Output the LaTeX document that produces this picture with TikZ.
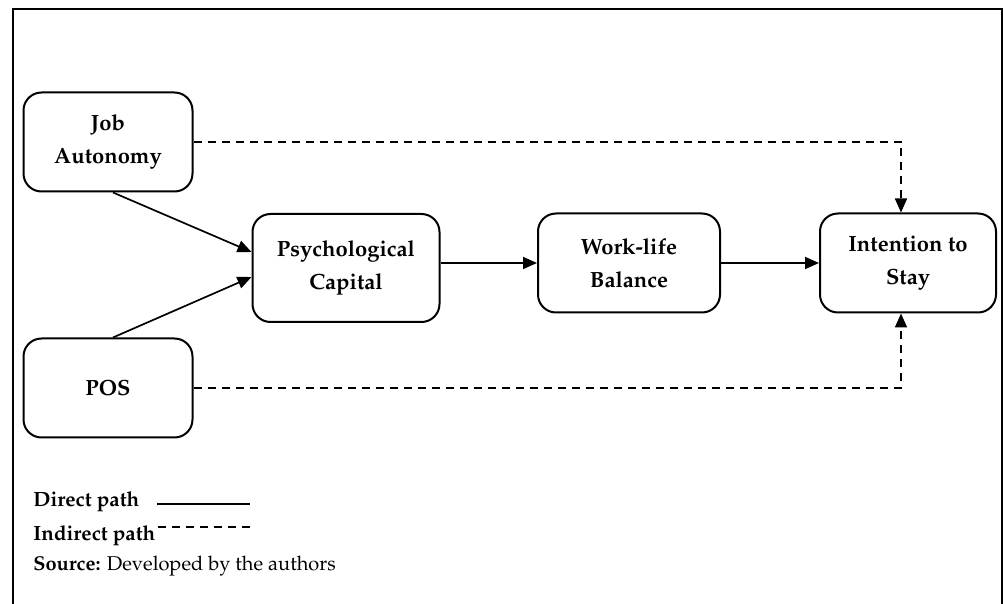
\documentclass[tikz,border=0pt]{standalone}
\usepackage[T1]{fontenc}
\usepackage{mathpazo}
\usetikzlibrary{arrows.meta,positioning}

\begin{document}
\begin{tikzpicture}[x=0.5pt,y=-0.5pt,
    pbox/.style={draw,line width=1pt,rounded corners=9pt,align=center,
      font=\fontsize{11}{16.5}\selectfont\bfseries,minimum height=49.5pt,inner sep=2pt},
    dpath/.style={line width=0.85pt,-{Triangle[length=7pt,width=6pt]}},
    ipath/.style={dpath,dash pattern=on 4pt off 3pt},
    lgd/.style={anchor=base west,inner sep=0pt,font=\fontsize{10}{12}\selectfont}]
 \useasboundingbox (0,0) rectangle (1003,604);
 \draw[line width=1pt] (13,620) -- (13,9) -- (1002,9) -- (1002,620);
 \node[pbox,minimum width=84.5pt] (JA) at (108,142) {Job\\Autonomy};
 \node[pbox,minimum width=84.5pt] (POS) at (108,388) {POS};
 \node[pbox,minimum width=93.5pt,minimum height=54pt] (PC) at (346,268) {Psychological\\Capital};
 \node[pbox,minimum width=91pt] (WLB) at (629,263) {Work-life\\Balance};
 \node[pbox,minimum width=88pt] (ITS) at (908,263) {Intention to\\Stay};
 \draw[dpath] ([xshift=2.5pt]JA.south) -- ([yshift=8pt]PC.west);
 \draw[dpath] ([xshift=2.5pt]POS.north) -- ([yshift=-4.5pt]PC.west);
 \draw[dpath] (PC.east |- WLB.west) -- (WLB.west);
 \draw[dpath] (WLB.east) -- (ITS.west);
 \draw[ipath] (JA.east) -| ([xshift=-3.5pt]ITS.north);
 \draw[ipath] (POS.east) -| ([xshift=-3.5pt]ITS.south);
 % legend
 \node[lgd,font=\fontsize{10.3}{12}\selectfont\bfseries] (DP) at (33,507) {Direct path};
 \node[lgd,font=\fontsize{10.3}{12}\selectfont\bfseries] (IP) at (33,541) {Indirect path};
 \node[lgd] (SRC) at (33,571) {\textbf{Source:} Developed by the authors};
 \coordinate (DL) at (157,504);
 \coordinate (IL) at (158,527);
 \draw[line width=0.85pt] (DL) -- ++(93,0);
 \draw[line width=0.85pt,dash pattern=on 4pt off 3pt] (IL) -- ++(94,0);
\end{tikzpicture}
\end{document}
